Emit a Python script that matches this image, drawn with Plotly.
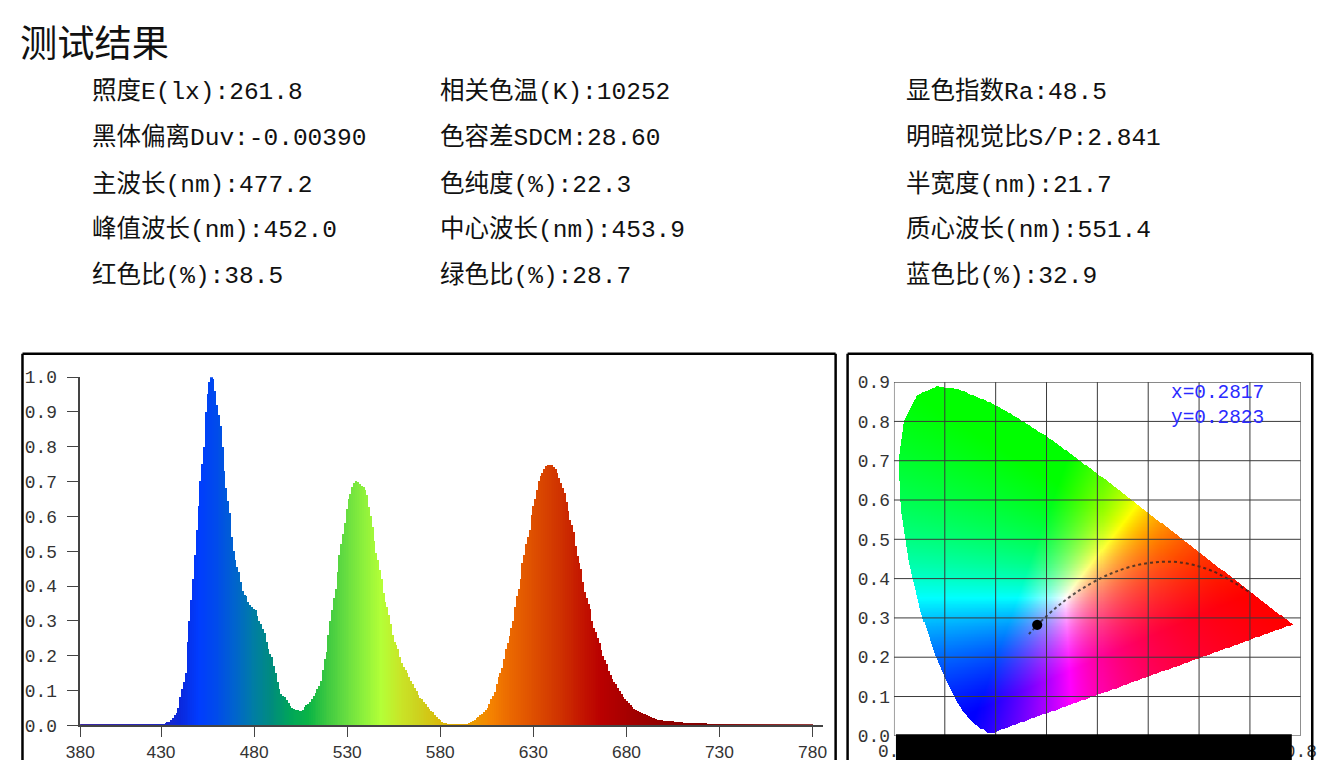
import numpy as np
import plotly.graph_objects as go

# the photographed window shows the page at about 0.979 scale, shifted by (14.5, 6);
# positions below are written in window pixels and mapped back to figure pixels
SCALE, OFF_X, OFF_Y = 0.979, 14.5, 6.0
W, H = 1343, 771

title_text = "测试结果"
param_cols = [
    ["照度E(lx):261.8", "黑体偏离Duv:-0.00390", "主波长(nm):477.2",
     "峰值波长(nm):452.0", "红色比(%):38.5"],
    ["相关色温(K):10252", "色容差SDCM:28.60", "色纯度(%):22.3",
     "中心波长(nm):453.9", "绿色比(%):28.7"],
    ["显色指数Ra:48.5", "明暗视觉比S/P:2.841", "半宽度(nm):21.7",
     "质心波长(nm):551.4", "蓝色比(%):32.9"],
]

# relative spectrum, 380..780 nm in 1 nm steps
wavelengths = list(range(380, 781))
spd = [
    0.002, 0.002, 0.002, 0.002, 0.002, 0.002, 0.002, 0.002, 0.002, 0.002,  # 380
    0.002, 0.002, 0.002, 0.002, 0.002, 0.002, 0.002, 0.002, 0.002, 0.002,  # 390
    0.002, 0.002, 0.002, 0.002, 0.002, 0.002, 0.002, 0.002, 0.002, 0.002,  # 400
    0.002, 0.002, 0.002, 0.002, 0.002, 0.002, 0.002, 0.002, 0.002, 0.002,  # 410
    0.002, 0.002, 0.002, 0.002, 0.002, 0.002, 0.002, 0.005, 0.008, 0.010,  # 420
    0.016, 0.022, 0.030, 0.035, 0.050, 0.080, 0.105, 0.125, 0.150, 0.240,  # 430
    0.300, 0.360, 0.420, 0.490, 0.560, 0.630, 0.700, 0.750, 0.800, 0.900,  # 440
    0.950, 0.985, 1.000, 0.995, 0.960, 0.920, 0.890, 0.860, 0.800, 0.730,  # 450
    0.680, 0.645, 0.610, 0.540, 0.500, 0.475, 0.455, 0.440, 0.410, 0.385,  # 460
    0.375, 0.370, 0.355, 0.345, 0.340, 0.335, 0.330, 0.315, 0.300, 0.290,  # 470
    0.275, 0.265, 0.240, 0.220, 0.205, 0.195, 0.170, 0.150, 0.125, 0.105,  # 480
    0.090, 0.085, 0.080, 0.072, 0.063, 0.055, 0.050, 0.047, 0.045, 0.043,  # 490
    0.041, 0.041, 0.045, 0.052, 0.058, 0.062, 0.066, 0.074, 0.083, 0.094,  # 500
    0.105, 0.114, 0.128, 0.160, 0.190, 0.210, 0.260, 0.300, 0.330, 0.365,  # 510
    0.390, 0.440, 0.490, 0.520, 0.550, 0.580, 0.620, 0.650, 0.665, 0.685,  # 520
    0.695, 0.700, 0.698, 0.693, 0.688, 0.684, 0.676, 0.660, 0.627, 0.600,  # 530
    0.570, 0.530, 0.495, 0.475, 0.446, 0.420, 0.380, 0.355, 0.340, 0.318,  # 540
    0.290, 0.260, 0.240, 0.231, 0.218, 0.195, 0.180, 0.168, 0.160, 0.150,  # 550
    0.138, 0.128, 0.118, 0.108, 0.097, 0.086, 0.078, 0.074, 0.068, 0.060,  # 560
    0.052, 0.046, 0.042, 0.037, 0.030, 0.024, 0.019, 0.014, 0.010, 0.007,  # 570
    0.005, 0.004, 0.003, 0.003, 0.003, 0.003, 0.003, 0.003, 0.003, 0.003,  # 580
    0.003, 0.003, 0.003, 0.007, 0.010, 0.013, 0.016, 0.020, 0.024, 0.028,  # 590
    0.032, 0.038, 0.044, 0.050, 0.061, 0.074, 0.084, 0.095, 0.118, 0.138,  # 600
    0.150, 0.165, 0.190, 0.219, 0.235, 0.255, 0.280, 0.300, 0.340, 0.370,  # 610
    0.390, 0.420, 0.465, 0.490, 0.520, 0.540, 0.560, 0.605, 0.630, 0.650,  # 620
    0.675, 0.700, 0.715, 0.725, 0.737, 0.744, 0.746, 0.746, 0.746, 0.742,  # 630
    0.737, 0.725, 0.710, 0.697, 0.682, 0.668, 0.640, 0.615, 0.590, 0.574,  # 640
    0.555, 0.515, 0.485, 0.465, 0.450, 0.410, 0.383, 0.365, 0.348, 0.333,  # 650
    0.300, 0.280, 0.268, 0.250, 0.235, 0.215, 0.198, 0.186, 0.175, 0.155,  # 660
    0.143, 0.134, 0.124, 0.117, 0.107, 0.098, 0.090, 0.081, 0.075, 0.070,  # 670
    0.064, 0.058, 0.052, 0.047, 0.044, 0.041, 0.037, 0.035, 0.033, 0.031,  # 680
    0.029, 0.026, 0.024, 0.022, 0.020, 0.018, 0.016, 0.015, 0.014, 0.012,  # 690
    0.012, 0.012, 0.012, 0.012, 0.012, 0.010, 0.009, 0.008, 0.008, 0.008,  # 700
    0.006, 0.005, 0.005, 0.005, 0.005, 0.005, 0.005, 0.005, 0.005, 0.005,  # 710
    0.005, 0.005, 0.005, 0.002, 0.002, 0.002, 0.002, 0.002, 0.002, 0.002,  # 720
    0.002, 0.002, 0.002, 0.002, 0.002, 0.002, 0.002, 0.002, 0.002, 0.002,  # 730
    0.002, 0.002, 0.002, 0.002, 0.002, 0.002, 0.002, 0.002, 0.002, 0.002,  # 740
    0.002, 0.002, 0.002, 0.002, 0.002, 0.002, 0.002, 0.002, 0.002, 0.002,  # 750
    0.002, 0.002, 0.002, 0.002, 0.002, 0.002, 0.002, 0.002, 0.002, 0.002,  # 760
    0.002, 0.002, 0.002, 0.002, 0.002, 0.002, 0.002, 0.002, 0.002, 0.002,  # 770
    0.002,                                                                 # 780
]

tick_text = ["380", "430", "480", "530", "580", "630", "680", "730", "780"]
# the instrument draws its labels a bit wider apart than 50 nm, keep them where it puts them
tick_pos = [380, 424.1, 475.0, 525.9, 576.7, 627.6, 678.5, 729.3, 780.2]

# bar colour by wavelength
color_wl = [380, 420, 435, 445, 455, 465, 475, 485, 495, 505, 515, 525, 535, 545,
            555, 565, 575, 585, 595, 605, 615, 625, 635, 645, 655, 665, 680, 700, 720, 780]
color_rgb = [(60, 40, 160), (40, 40, 190), (10, 40, 220), (0, 60, 255), (0, 75, 235),
             (0, 100, 205), (0, 125, 165), (0, 140, 125), (0, 165, 90), (10, 180, 70),
             (60, 200, 65), (100, 220, 65), (140, 240, 60), (180, 255, 55), (200, 230, 40),
             (205, 210, 30), (215, 190, 15), (225, 170, 0), (235, 155, 0), (245, 130, 0),
             (235, 105, 0), (225, 85, 0), (215, 65, 0), (205, 45, 0), (195, 20, 0),
             (185, 0, 0), (165, 0, 0), (145, 0, 0), (130, 0, 0), (150, 60, 60)]

# CIE 1931 spectral locus
locus_wl = [380, 400, 410, 420, 425, 430, 435, 440, 445, 450, 455, 460, 465, 470, 475,
            480, 485, 490, 495, 500, 505, 510, 515, 520, 525, 530, 535, 540, 545, 550,
            555, 560, 565, 570, 575, 580, 585, 590, 595, 600, 605, 610, 615, 620, 625,
            630, 640, 650, 660, 680, 700]
locus_x = [0.1741, 0.1733, 0.1726, 0.1714, 0.1703, 0.1689, 0.1669, 0.1644, 0.1611, 0.1566,
           0.1510, 0.1440, 0.1355, 0.1241, 0.1096, 0.0913, 0.0687, 0.0454, 0.0235, 0.0082,
           0.0039, 0.0139, 0.0389, 0.0743, 0.1142, 0.1547, 0.1929, 0.2296, 0.2658, 0.3016,
           0.3373, 0.3731, 0.4087, 0.4441, 0.4788, 0.5125, 0.5448, 0.5752, 0.6029, 0.6270,
           0.6482, 0.6658, 0.6801, 0.6915, 0.7006, 0.7079, 0.7190, 0.7260, 0.7300, 0.7334,
           0.7347]
locus_y = [0.0050, 0.0048, 0.0048, 0.0051, 0.0058, 0.0069, 0.0086, 0.0109, 0.0138, 0.0177,
           0.0227, 0.0297, 0.0399, 0.0578, 0.0868, 0.1327, 0.2007, 0.2950, 0.4127, 0.5384,
           0.6548, 0.7502, 0.8120, 0.8338, 0.8262, 0.8059, 0.7816, 0.7543, 0.7243, 0.6923,
           0.6589, 0.6245, 0.5896, 0.5547, 0.5202, 0.4866, 0.4544, 0.4242, 0.3965, 0.3725,
           0.3514, 0.3340, 0.3197, 0.3083, 0.2993, 0.2920, 0.2809, 0.2740, 0.2700, 0.2666,
           0.2653]

# Planckian locus
planck_T = [1000, 1500, 2000, 2500, 3000, 3500, 4000, 5000, 6000, 7000, 8000,
            10000, 15000, 20000, 30000, 100000]
planck_x = [0.6528, 0.5857, 0.5267, 0.4770, 0.4369, 0.4053, 0.3805, 0.3451, 0.3221,
            0.3064, 0.2952, 0.2807, 0.2637, 0.2565, 0.2501, 0.2420]
planck_y = [0.3444, 0.3931, 0.4133, 0.4137, 0.4041, 0.3907, 0.3768, 0.3516, 0.3318,
            0.3166, 0.3048, 0.2884, 0.2674, 0.2577, 0.2489, 0.2374]

sample_x, sample_y = 0.2817, 0.2823
cie_xticks = [0.0, 0.1, 0.2, 0.3, 0.4, 0.5, 0.6, 0.7, 0.8]
cie_yticks = [0.0, 0.1, 0.2, 0.3, 0.4, 0.5, 0.6, 0.7, 0.8, 0.9]

# the instrument's background diagram is stretched a little against its axes
SX, OX, SY, OY = 1.06, 0.005, 1.067, 0.0


def px(x):
    return (x - OFF_X) / SCALE / W


def py(y):
    return 1 - (y - OFF_Y) / SCALE / H


def fs(size):
    return size / SCALE


def inside_polygon(qx, qy, vx, vy):
    res = np.zeros(qx.shape, dtype=bool)
    n = len(vx)
    j = n - 1
    for i in range(n):
        xi, yi, xj, yj = vx[i], vy[i], vx[j], vy[j]
        cross = ((yi > qy) != (yj > qy)) & (qx < (xj - xi) * (qy - yi) / (yj - yi + 1e-12) + xi)
        res ^= cross
        j = i
    return res


# chromaticity background
step = 0.002
gx = np.arange(0, 0.8, step) + step / 2
gy = np.arange(0, 0.9, step) + step / 2
XX, YY = np.meshgrid(gx, gy)
tx = (XX - OX) / SX
ty = (YY - OY) / SY
inside = inside_polygon(tx, ty, locus_x, locus_y)
tyc = np.maximum(ty, 1e-4)
cX = tx / tyc
cZ = (1 - tx - ty) / tyc
r = 3.2406 * cX - 1.5372 - 0.4986 * cZ
g = -0.9689 * cX + 1.8758 + 0.0415 * cZ
b = 0.0557 * cX - 0.2040 + 1.0570 * cZ
rgb = np.clip(np.stack([r, g, b], axis=-1), 0, None)
rgb = rgb / np.maximum(rgb.max(axis=-1, keepdims=True), 1e-9)
rgb = (rgb * 255).round().astype(int)
img = np.concatenate([rgb, inside[..., None].astype(int)], axis=-1)
img[~inside] = [255, 255, 255, 0]

bar_colors = []
for wl in wavelengths:
    c = [int(round(np.interp(wl, color_wl, [rgbc[k] for rgbc in color_rgb]))) for k in range(3)]
    bar_colors.append("rgb(%d,%d,%d)" % tuple(c))

fig = go.Figure()

fig.add_trace(go.Bar(x=wavelengths, y=spd, width=1, marker_color=bar_colors,
                     marker_line_width=0, xaxis="x", yaxis="y", hoverinfo="x+y"))

fig.add_trace(go.Image(z=img.tolist(), colormodel="rgba", x0=step / 2, dx=step,
                       y0=step / 2, dy=step, xaxis="x2", yaxis="y2", hoverinfo="skip"))

fig.add_trace(go.Scatter(x=[SX * v + OX for v in planck_x], y=[SY * v + OY for v in planck_y],
                         mode="lines", line=dict(color="rgba(35,35,35,0.75)", width=2, dash="dot",
                                                 shape="spline"),
                         xaxis="x2", yaxis="y2", hoverinfo="skip"))
fig.add_trace(go.Scatter(x=[sample_x], y=[sample_y], mode="markers",
                         marker=dict(color="black", size=fs(10)), xaxis="x2", yaxis="y2"))

mono = "Liberation Mono, Noto Sans CJK SC"
axis_col = "#444"

fig.update_layout(
    width=W, height=H, margin=dict(l=0, r=0, t=0, b=0),
    paper_bgcolor="white", plot_bgcolor="white", showlegend=False, bargap=0,
    xaxis=dict(domain=[px(79), px(824)], range=[380, 786], tickvals=tick_pos,
               ticktext=tick_text, ticks="outside", ticklen=10, tickcolor=axis_col,
               showline=True, linecolor=axis_col, linewidth=1.5, showgrid=False,
               zeroline=False, ticklabelstandoff=0,
               tickfont=dict(family="Liberation Sans", size=fs(17), color="#333")),
    yaxis=dict(domain=[py(726), py(376)], range=[0, 1.0], dtick=0.1, tickformat=".1f",
               ticks="outside", ticklen=12, tickcolor=axis_col, showline=True,
               linecolor=axis_col, linewidth=1.5, showgrid=False, zeroline=False,
               ticklabelstandoff=6, tickfont=dict(family=mono, size=fs(17.5), color="#333")),
    xaxis2=dict(domain=[px(895), px(1303)], range=[0, 0.8], tickvals=cie_xticks,
                tickformat=".1f", showgrid=False, zeroline=False, showline=False,
                anchor="y2", ticklabelstandoff=2,
                tickfont=dict(family=mono, size=fs(17.5), color="#333")),
    yaxis2=dict(domain=[py(736.5), py(381)], range=[0, 0.9], autorange=False,
                tickvals=cie_yticks, tickformat=".1f", showgrid=False, zeroline=False,
                showline=False, anchor="x2", scaleanchor=False, constrain="range",
                ticklabelstandoff=3,
                tickfont=dict(family=mono, size=fs(17.5), color="#333")),
)

shapes = []
# chromaticity grid drawn on top of the colour fill
for v in cie_xticks:
    shapes.append(dict(type="line", xref="x2", yref="y2", x0=v, x1=v, y0=0, y1=0.9,
                       line=dict(color="#3a3a3a", width=1), layer="above"))
for v in cie_yticks:
    shapes.append(dict(type="line", xref="x2", yref="y2", x0=0, x1=0.8, y0=v, y1=v,
                       line=dict(color="#3a3a3a", width=1), layer="above"))
# panel frames (open at the bottom, the panels run off the page)
for x0, x1 in [(21, 836.5), (848.5, 1314.5)]:
    frame = dict(color="black", width=2.5)
    shapes.append(dict(type="line", xref="paper", yref="paper", x0=px(x0), x1=px(x0),
                       y0=0, y1=py(352.5), line=frame, layer="above"))
    shapes.append(dict(type="line", xref="paper", yref="paper", x0=px(x1), x1=px(x1),
                       y0=0, y1=py(352.5), line=frame, layer="above"))
    shapes.append(dict(type="line", xref="paper", yref="paper", x0=px(x0), x1=px(x1),
                       y0=py(352.5), y1=py(352.5), line=frame, layer="above"))
# black bar over the chromaticity x labels
shapes.append(dict(type="rect", xref="paper", yref="paper", x0=px(897), x1=px(1294),
                   y0=0, y1=py(735), fillcolor="black", line=dict(width=0), layer="above"))
fig.update_layout(shapes=shapes)

annotations = [dict(text=title_text, xref="paper", yref="paper", x=px(17), y=py(38),
                    xanchor="left", yanchor="middle", showarrow=False,
                    font=dict(family="Noto Sans CJK SC", size=fs(36.5), color="#111"))]
col_x = [89, 438, 905]
row_y = [89, 135, 182, 228, 274]
for cx, col in zip(col_x, param_cols):
    for ry, txt in zip(row_y, col):
        annotations.append(dict(text=txt, xref="paper", yref="paper", x=px(cx), y=py(ry),
                                xanchor="left", yanchor="middle", showarrow=False,
                                font=dict(family=mono, size=fs(24), color="#111")))
annotations.append(dict(text="x=%.4f<br>y=%.4f" % (sample_x, sample_y), xref="paper",
                        yref="paper", x=px(1171), y=py(405), xanchor="left", yanchor="middle",
                        align="left", showarrow=False,
                        font=dict(family=mono, size=fs(19), color="#2b2bff")))
fig.update_layout(annotations=annotations)

fig.write_html("out.html", config={"displayModeBar": False},
               post_script="document.body.style.margin='0';document.body.style.overflow='hidden';")
